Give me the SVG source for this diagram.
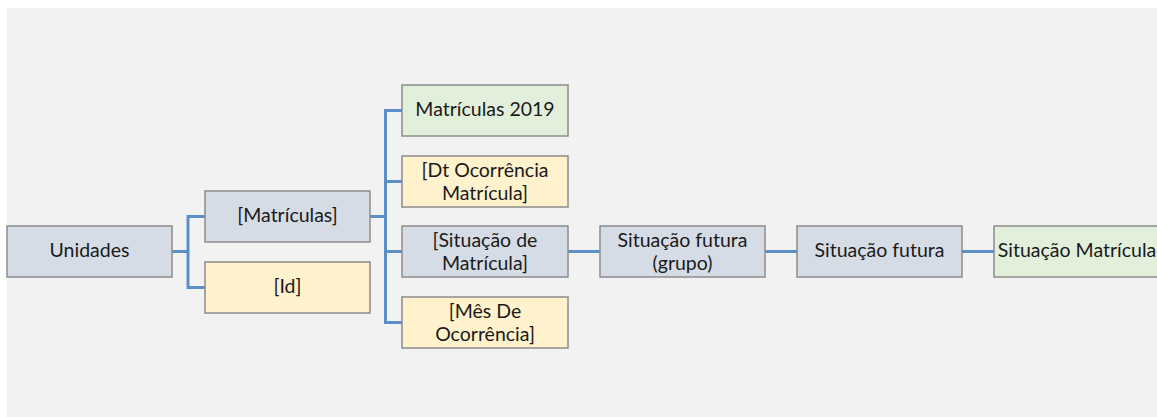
<svg xmlns="http://www.w3.org/2000/svg" width="1157" height="417" viewBox="0 0 1157 417">
<style>
.bg{fill:#f2f2f2}
.n rect{stroke:#8c8c8c;stroke-width:1.5}
.gray{fill:#d6dce5}
.yel{fill:#fff2cc}
.grn{fill:#e2efda}
text{font-family:Lato,"Liberation Sans",sans-serif;font-size:19.5px;fill:#1a1a1a;text-anchor:middle}
.c path{stroke:#5b8fc7;stroke-width:3;fill:none;stroke-linejoin:miter}
</style>
<rect class="bg" x="7" y="8" width="1150" height="409"/>
<g class="c" id="connectors">
<path d="M172 251.5H188"/>
<path d="M205 216.5H188V287.5H205"/>
<path d="M370 216.5H385.5"/>
<path d="M402 110.5H385.5V322.5H402"/>
<path d="M385.5 181.5H402"/>
<path d="M385.5 251.5H402"/>
<path d="M568 251.5H600"/>
<path d="M765 251.5H797"/>
<path d="M962 251.5H994"/>
</g>
<g class="n" id="unidades"><rect class="gray" x="7" y="226" width="165" height="51"/><text x="89.5" y="256.5">Unidades</text></g>
<g class="n" id="matriculas"><rect class="gray" x="205" y="191" width="165" height="51"/><text x="287.5" y="221.5">[Matrículas]</text></g>
<g class="n" id="id"><rect class="yel" x="205" y="262" width="165" height="51"/><text x="287.5" y="292.5">[Id]</text></g>
<g class="n" id="matriculas2019"><rect class="grn" x="402" y="85" width="166" height="51"/><text x="485" y="115.5">Matrículas 2019</text></g>
<g class="n" id="dtocorrencia"><rect class="yel" x="402" y="156" width="166" height="51"/><text x="485" y="177">[Dt Ocorrência</text><text x="485" y="199.5">Matrícula]</text></g>
<g class="n" id="situacaode"><rect class="gray" x="402" y="226" width="166" height="51"/><text x="485" y="247">[Situação de</text><text x="485" y="269.5">Matrícula]</text></g>
<g class="n" id="mesde"><rect class="yel" x="402" y="297" width="166" height="51"/><text x="485" y="318">[Mês De</text><text x="485" y="340.5">Ocorrência]</text></g>
<g class="n" id="situacaofuturagrupo"><rect class="gray" x="600" y="226" width="165" height="51"/><text x="682.5" y="247">Situação futura</text><text x="682.5" y="269.5">(grupo)</text></g>
<g class="n" id="situacaofutura"><rect class="gray" x="797" y="226" width="165" height="51"/><text x="879.5" y="256.5">Situação futura</text></g>
<g class="n" id="situacaomatricula"><rect class="grn" x="994" y="226" width="166" height="51"/><text x="1077" y="256.5">Situação Matrícula</text></g>
</svg>
